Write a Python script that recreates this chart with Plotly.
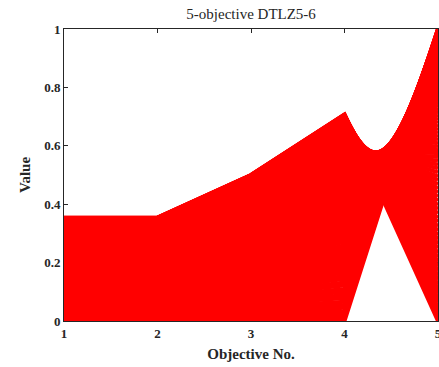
import plotly.graph_objects as go

# Objective values of each solution on the DTLZ5 front (one entry per solution).
# Objectives 1 and 2 take the same value for every solution.
obj1 = [0.354, 0.354, 0.353, 0.353, 0.353, 0.352, 0.352, 0.351, 0.351, 0.350,
        0.349, 0.348, 0.347, 0.346, 0.345, 0.344, 0.343, 0.341, 0.339, 0.338,
        0.336, 0.334, 0.333, 0.331, 0.329, 0.327, 0.325, 0.322, 0.320, 0.317,
        0.315, 0.313, 0.310, 0.307, 0.304, 0.302, 0.298, 0.296, 0.292, 0.289,
        0.286, 0.283, 0.279, 0.276, 0.273, 0.269, 0.265, 0.262, 0.258, 0.254,
        0.250, 0.246, 0.242, 0.238, 0.234, 0.229, 0.225, 0.221, 0.217, 0.212,
        0.208, 0.203, 0.199, 0.194, 0.190, 0.185, 0.180, 0.175, 0.170, 0.165,
        0.161, 0.156, 0.151, 0.146, 0.140, 0.135, 0.130, 0.125, 0.120, 0.115,
        0.109, 0.104, 0.099, 0.093, 0.088, 0.082, 0.077, 0.072, 0.066, 0.061,
        0.055, 0.050, 0.044, 0.039, 0.033, 0.028, 0.022, 0.017, 0.011, 0.006,
        0.000]
obj2 = list(obj1)
obj3 = [0.500, 0.500, 0.499, 0.499, 0.499, 0.498, 0.498, 0.497, 0.496, 0.495,
        0.494, 0.492, 0.491, 0.489, 0.488, 0.486, 0.484, 0.482, 0.480, 0.478,
        0.475, 0.473, 0.470, 0.467, 0.465, 0.462, 0.459, 0.455, 0.452, 0.449,
        0.445, 0.442, 0.438, 0.434, 0.430, 0.426, 0.422, 0.418, 0.413, 0.409,
        0.404, 0.400, 0.395, 0.390, 0.385, 0.380, 0.375, 0.370, 0.364, 0.359,
        0.353, 0.348, 0.342, 0.336, 0.330, 0.324, 0.318, 0.312, 0.306, 0.300,
        0.294, 0.287, 0.281, 0.274, 0.268, 0.261, 0.254, 0.247, 0.241, 0.234,
        0.227, 0.220, 0.213, 0.206, 0.198, 0.191, 0.184, 0.176, 0.169, 0.162,
        0.154, 0.147, 0.139, 0.132, 0.124, 0.116, 0.109, 0.101, 0.094, 0.086,
        0.078, 0.070, 0.063, 0.055, 0.047, 0.039, 0.031, 0.024, 0.016, 0.008,
        0.000]
obj4 = [0.707, 0.707, 0.706, 0.706, 0.706, 0.705, 0.704, 0.703, 0.701, 0.700,
        0.699, 0.696, 0.694, 0.692, 0.690, 0.687, 0.685, 0.682, 0.679, 0.676,
        0.672, 0.669, 0.665, 0.661, 0.658, 0.653, 0.649, 0.644, 0.640, 0.635,
        0.630, 0.625, 0.619, 0.614, 0.609, 0.603, 0.597, 0.591, 0.585, 0.578,
        0.572, 0.566, 0.559, 0.552, 0.545, 0.537, 0.530, 0.523, 0.515, 0.508,
        0.500, 0.492, 0.484, 0.476, 0.467, 0.459, 0.450, 0.442, 0.433, 0.424,
        0.416, 0.407, 0.397, 0.388, 0.379, 0.370, 0.360, 0.350, 0.341, 0.331,
        0.321, 0.311, 0.301, 0.291, 0.281, 0.271, 0.260, 0.250, 0.240, 0.229,
        0.218, 0.208, 0.197, 0.187, 0.176, 0.165, 0.154, 0.144, 0.132, 0.122,
        0.110, 0.100, 0.088, 0.078, 0.066, 0.055, 0.045, 0.033, 0.022, 0.011,
        0.000]
obj5 = [0.000, 0.016, 0.031, 0.047, 0.063, 0.078, 0.094, 0.110, 0.125, 0.141,
        0.156, 0.172, 0.187, 0.203, 0.218, 0.233, 0.249, 0.264, 0.279, 0.294,
        0.309, 0.324, 0.339, 0.353, 0.368, 0.383, 0.397, 0.412, 0.426, 0.440,
        0.454, 0.468, 0.482, 0.495, 0.509, 0.523, 0.536, 0.549, 0.562, 0.575,
        0.588, 0.600, 0.613, 0.625, 0.637, 0.649, 0.661, 0.673, 0.685, 0.696,
        0.707, 0.718, 0.729, 0.740, 0.750, 0.760, 0.771, 0.780, 0.790, 0.800,
        0.809, 0.818, 0.827, 0.836, 0.844, 0.853, 0.861, 0.869, 0.876, 0.884,
        0.891, 0.898, 0.905, 0.911, 0.918, 0.924, 0.930, 0.935, 0.941, 0.946,
        0.951, 0.956, 0.960, 0.965, 0.969, 0.972, 0.976, 0.979, 0.982, 0.985,
        0.988, 0.990, 0.992, 0.994, 0.996, 0.997, 0.998, 0.999, 0.999, 1.000,
        1.000]

objective_no = [1, 2, 3, 4, 5]
y_ticks = [0, 0.2, 0.4, 0.6, 0.8, 1]
y_tick_text = ["0", "0.2", "0.4", "0.6", "0.8", "1"]

# One polyline per solution, joined into a single trace with gaps
xs, ys = [], []
for row in zip(obj1, obj2, obj3, obj4, obj5):
    xs.extend(objective_no + [None])
    ys.extend(list(row) + [None])

fig = go.Figure(go.Scatter(
    x=xs, y=ys, mode="lines",
    line=dict(color="#ff0000", width=4),
    hoverinfo="skip", showlegend=False,
))

serif = "Liberation Serif, Times New Roman, serif"
axis_col = "#262626"

fig.update_layout(
    width=439, height=367,
    margin=dict(l=64, r=1, t=29, b=46),
    paper_bgcolor="white", plot_bgcolor="white",
    title=dict(text="5-objective DTLZ5-6", x=0.572, xanchor="center",
               y=1 - 14 / 367, yanchor="middle",
               font=dict(family=serif, size=15, color=axis_col)),
    xaxis=dict(
        range=[1, 5], tickvals=objective_no, ticktext=[str(v) for v in objective_no],
        showgrid=False, zeroline=False, showline=True, mirror="ticks",
        linecolor=axis_col, linewidth=1, ticks="inside", ticklen=4,
        tickcolor=axis_col, layer="below traces", ticklabeloverflow="allow",
        automargin=False,
        tickfont=dict(family=serif, size=13, color=axis_col, weight="bold"),
        title=dict(text="<b>Objective No.</b>", standoff=8,
                   font=dict(family=serif, size=15, color=axis_col)),
    ),
    yaxis=dict(
        range=[0, 1], tickvals=y_ticks, ticktext=y_tick_text,
        showgrid=False, zeroline=False, showline=True, mirror="ticks",
        linecolor=axis_col, linewidth=1, ticks="inside", ticklen=4,
        tickcolor=axis_col, layer="below traces", automargin=False,
        tickfont=dict(family=serif, size=13, color=axis_col, weight="bold"),
        title=dict(text="<b>Value</b>", standoff=9,
                   font=dict(family=serif, size=15, color=axis_col)),
    ),
)

fig.write_html("out.html")
